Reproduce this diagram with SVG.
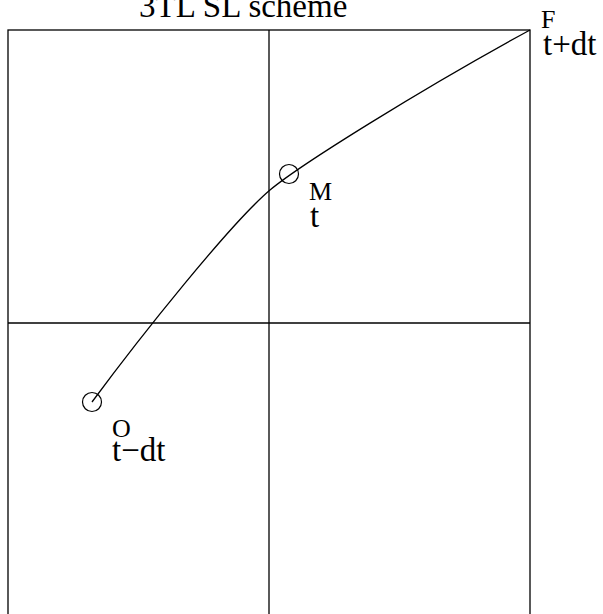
<svg xmlns="http://www.w3.org/2000/svg" width="603" height="614" viewBox="0 0 603 614">
<style>
.ln{stroke:#000;stroke-width:1.3;fill:none}
.pt{stroke:#000;stroke-width:1.2;fill:none}
.big{font-family:"Liberation Serif",serif;font-size:33px;fill:#000}
.sm{font-family:"Liberation Serif",serif;font-size:26px;fill:#000}
</style>
<rect width="603" height="614" fill="#fff"/>
<g id="grid">
<rect class="ln" x="8" y="30" width="522" height="600"/>
<line class="ln" x1="269" y1="30" x2="269" y2="614"/>
<line class="ln" x1="8" y1="323" x2="530" y2="323"/>
</g>
<g id="connectors">
<path class="ln" d="M92,402 C140,337 230,224 270,190 C300,165 420,90 530,30" stroke-width="1"/>
</g>
<g id="nodeO"><circle class="pt" cx="92" cy="402" r="9.5"/><text class="sm" x="112" y="437">O</text><text class="big" x="112" y="461">t−dt</text></g>
<g id="nodeM"><circle class="pt" cx="289" cy="174" r="9.5"/><text class="sm" x="309" y="200">M</text><text class="big" x="310" y="227">t</text></g>
<g id="nodeF"><text class="sm" x="541" y="28">F</text><text class="big" x="543" y="55">t+dt</text></g>
<text class="big" font-size="35" x="139" y="17">3TL SL scheme</text>
</svg>
